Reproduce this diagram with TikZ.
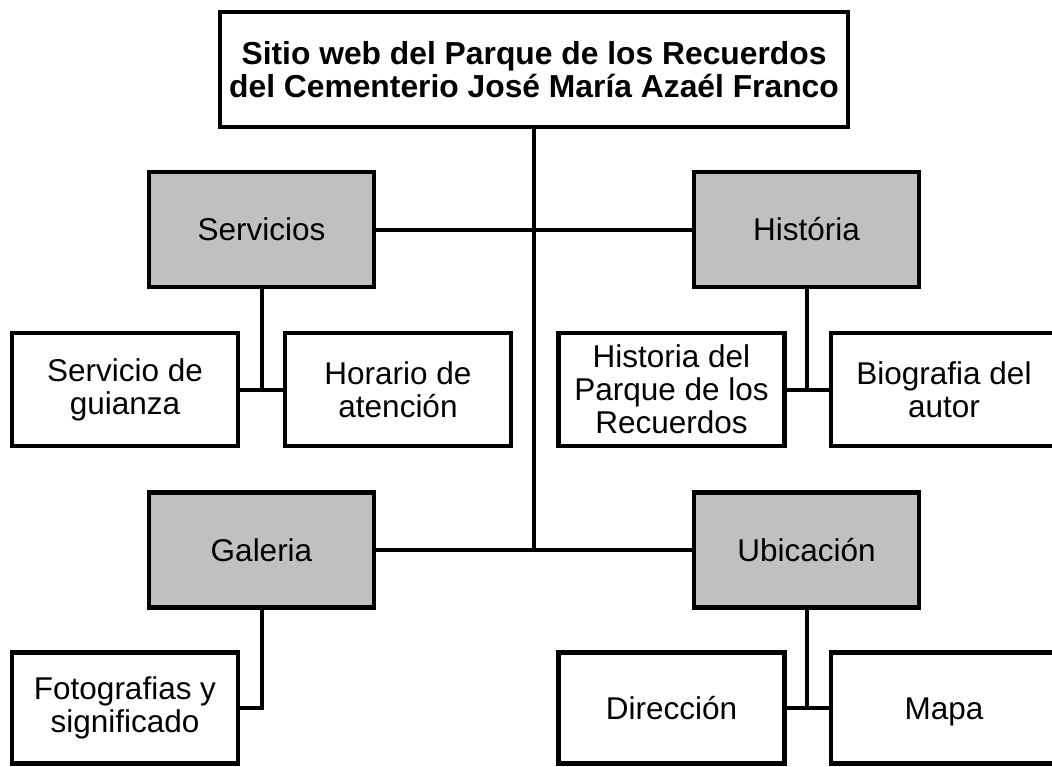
\documentclass[tikz,border=0pt]{standalone}
\usepackage{fontspec}
\setmainfont{Liberation Sans}
\definecolor{boxgray}{HTML}{C0C0C0}
\begin{document}
\begin{tikzpicture}[x=1pt, y=-1pt, line width=4pt,
    every node/.style={draw, line width=4.5pt, align=center, inner sep=0pt, font=\fontsize{31.5}{33}\selectfont},
    main/.style={fill=boxgray, minimum width=225pt, minimum height=115pt},
    sub/.style={fill=white, minimum width=226pt, minimum height=113pt},
    oneline/.style={text height=29pt, text depth=7pt}]
        \useasboundingbox (0,0) rectangle (1052,766);
        \node[minimum width=628pt, minimum height=115pt, font=\fontsize{31.8}{33}\selectfont\bfseries] (web) at (534, 69.5) {Sitio web del Parque de los Recuerdos\\del Cementerio José María Azaél Franco};
        \node[main] (serv) at (261.5, 229.5) {Servicios};
        \node[main] (hist) at (806.5, 229.5) {História};
        \node[main] (gal) at (261.5, 550) {Galeria};
        \node[main] (ubic) at (806.5, 550) {Ubicación};
        \node[sub] (guia) at (125, 389.5) {Servicio de\\guianza};
        \node[sub] (hora) at (398, 389.5) {Horario de\\atención};
        \node[sub] (hpar) at (671.5, 389.5) {Historia del\\Parque de los\\Recuerdos};
        \node[sub] (bio) at (944, 389.5) {Biografia del\\autor};
        \node[sub, minimum height=111pt] (foto) at (125, 708) {Fotografias y\\significado};
        \node[sub, oneline, minimum height=111pt] (dir) at (671.5, 708) {Dirección};
        \node[sub, oneline, minimum height=111pt] (mapa) at (944, 708) {Mapa};
        \draw (web.south) -- (web.south |- gal.east);
        \draw (serv) -- (hist);
        \draw (gal) -- (ubic);
        \draw (serv.south) -- (serv.south |- guia.east);
        \draw (guia.east) -- (hora.west);
        \draw (hist.south) -- (hist.south |- hpar.east);
        \draw (hpar.east) -- (bio.west);
        \draw (gal.south) -- (gal.south |- foto.east) -- (foto.east);
        \draw (ubic.south) -- (ubic.south |- dir.east);
        \draw (dir.east) -- (mapa.west);
    \end{tikzpicture}
\end{document}
